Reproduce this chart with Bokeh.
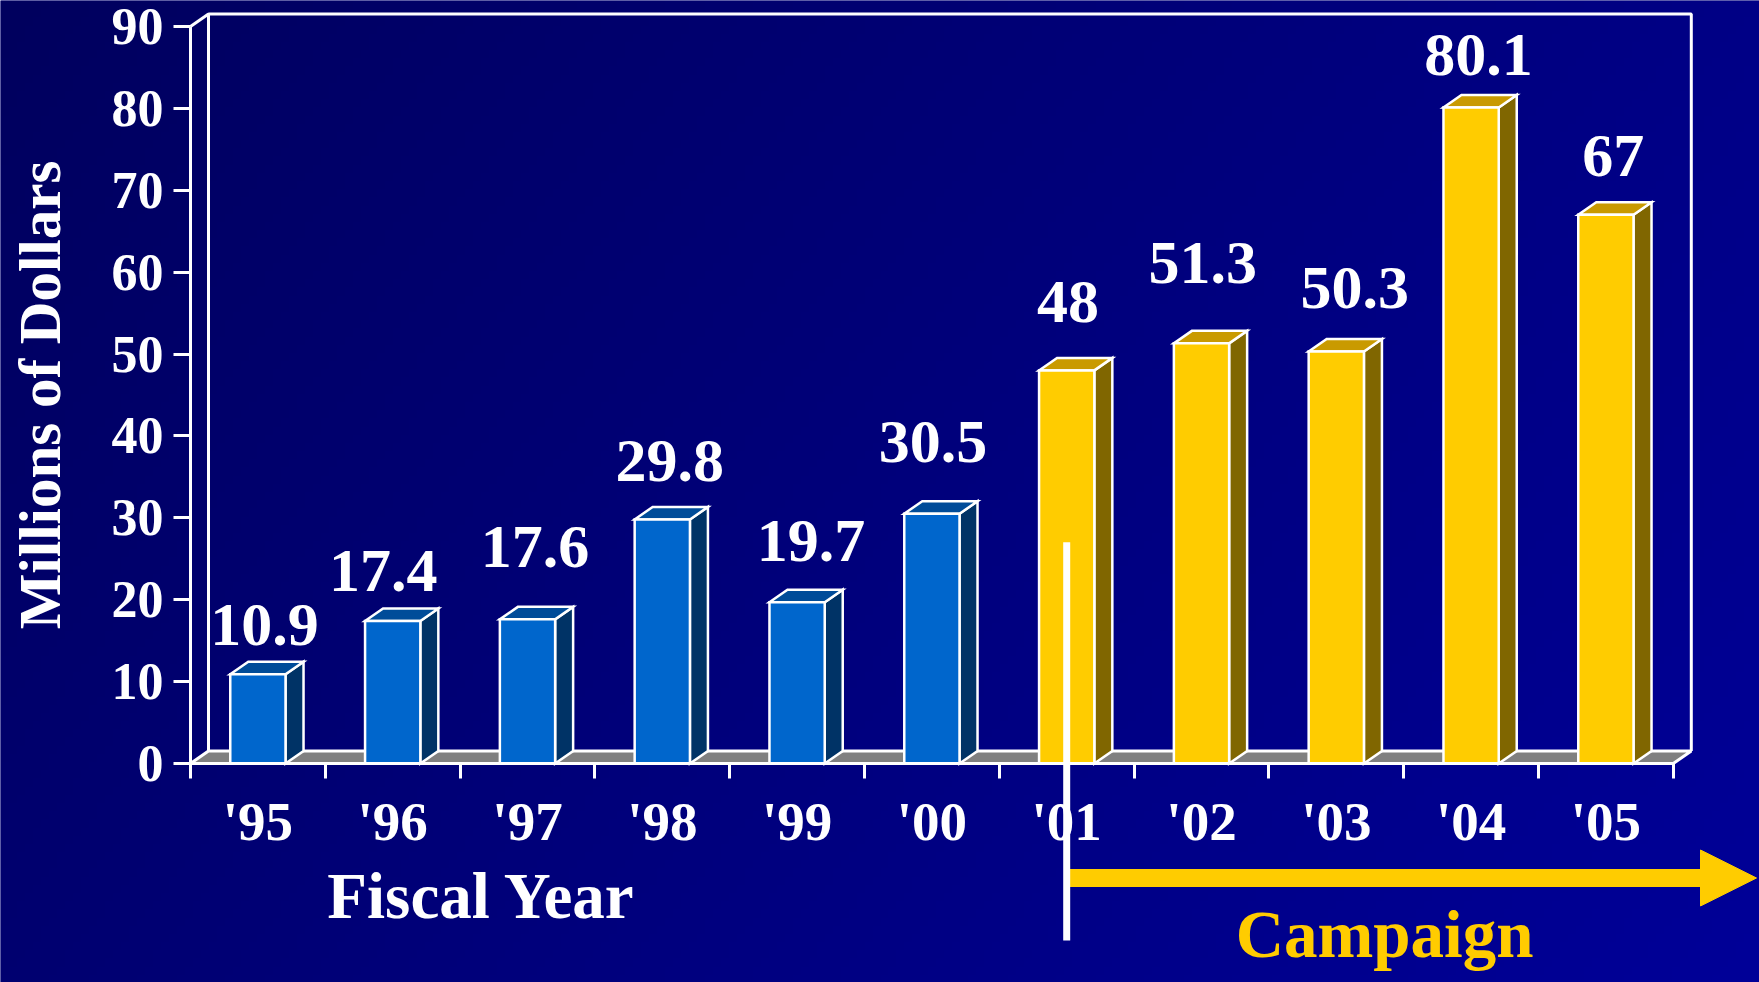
import numpy as np
from bokeh.plotting import figure
from bokeh.models import Range1d, FixedTicker, Arrow, NormalHead
from bokeh.core.properties import value
from bokeh.embed import file_html
from bokeh.resources import INLINE

# ---------------- data ----------------
years = ["'95", "'96", "'97", "'98", "'99", "'00", "'01", "'02", "'03", "'04", "'05"]
amounts = [10.9, 17.4, 17.6, 29.8, 19.7, 30.5, 48, 51.3, 50.3, 80.1, 67]
amount_labels = ["10.9", "17.4", "17.6", "29.8", "19.7", "30.5", "48", "51.3", "50.3", "80.1", "67"]
campaign_start = "'01"          # first campaign year
y_ticks = [0, 10, 20, 30, 40, 50, 60, 70, 80, 90]
y_max = 90

# ---------------- layout of the value labels (as placed in the original) ----------------
label_lift = [5.83, 5.90, 8.71, 6.93, 7.30, 8.56, 8.18, 9.68, 7.53, 6.23, 6.99]   # value units above bar
label_shift = [-0.017, -0.137, -0.012, -0.012, 0.037, -0.058, -0.058, -0.058, 0.071, -0.012, -0.012]  # categories

# ---------------- geometry / style ----------------
W, H = 1759, 982
PXX, X0 = 134.8, 190.0     # px per category, px of category boundary 0
PXY, Y0 = 8.19, 763.0      # px per unit, px of value 0
DX, DY = 18 / PXX, 12.5 / PXY   # 3-D depth offset in data units
BW = 0.41                  # bar front width (category units)
FONT = "Liberation Serif"

n = len(years)
ci = years.index(campaign_start)
face = {"b": ("#0066CC", "#004C99", "#003366"), "y": ("#FFCC00", "#C99A00", "#806600")}

p = figure(width=W, height=H, output_backend="svg", toolbar_location=None,
           x_range=Range1d(-X0 / PXX, (W - X0) / PXX),
           y_range=Range1d((Y0 - H) / PXY, Y0 / PXY),
           min_border=0, background_fill_color="#000078", border_fill_color="#000078",
           outline_line_color=None)
p.xgrid.visible = False
p.ygrid.visible = False

# background gradient
ny, nx = 120, 220
u = np.linspace(0, 1, nx)[None, :]
v = np.linspace(0, 1, ny)[:, None]          # 0 = bottom
tl, tr, bl, br = 0x5E, 0x86, 0x70, 0x98
blue = bl * (1 - u) * (1 - v) + br * u * (1 - v) + tl * (1 - u) * v + tr * u * v
img = np.zeros((ny, nx), dtype=np.uint32)
view = img.view(dtype=np.uint8).reshape((ny, nx, 4))
view[:, :, 2] = blue.astype(np.uint8)
view[:, :, 3] = 255
xr0, xr1 = p.x_range.start, p.x_range.end
yr0, yr1 = p.y_range.start, p.y_range.end
p.image_rgba(image=[img], x=xr0, y=yr0, dw=xr1 - xr0, dh=yr1 - yr0, level="image")

# floor
p.patch([0, n, n + DX, DX], [0, 0, DY, DY], fill_color="#808080",
        line_color="white", line_width=3)
# back wall + link to y axis
p.multi_line(xs=[[DX, DX, n + DX, n + DX], [0, DX]],
             ys=[[DY, y_max + DY, y_max + DY, DY], [y_max, y_max + DY]],
             line_color="white", line_width=3)

# 3-D bars
side_xs, side_ys, top_xs, top_ys, side_c, top_c, front_c = [], [], [], [], [], [], []
lefts, rights = [], []
for i, a in enumerate(amounts):
    c = face["y" if i >= ci else "b"]
    L, R = i + 0.5 - BW / 2, i + 0.5 + BW / 2
    lefts.append(L); rights.append(R)
    side_xs.append([R, R + DX, R + DX, R]); side_ys.append([0, DY, a + DY, a])
    top_xs.append([L, R, R + DX, L + DX]); top_ys.append([a, a, a + DY, a + DY])
    front_c.append(c[0]); top_c.append(c[1]); side_c.append(c[2])
p.patches(side_xs, side_ys, fill_color=side_c, line_color="white", line_width=2.5, line_join="miter")
p.patches(top_xs, top_ys, fill_color=top_c, line_color="white", line_width=2.5, line_join="miter")
p.quad(left=lefts, right=rights, bottom=0, top=amounts, fill_color=front_c,
       line_color="white", line_width=2.5, line_join="miter")

# value labels
p.text(x=[i + 0.5 + DX / 2 + label_shift[i] for i in range(n)],
       y=[a + label_lift[i] + 0.18 for i, a in enumerate(amounts)],
       text=amount_labels, text_align="center", text_baseline="alphabetic",
       text_font=value(FONT), text_font_style="bold", text_font_size="62px",
       text_color="white")

# axes (fixed at the front plane)
ya = p.yaxis[0]
ya.fixed_location = 0
ya.bounds = (0, y_max)
ya.ticker = FixedTicker(ticks=y_ticks, minor_ticks=[])
ya.axis_line_color = "white"; ya.axis_line_width = 3
ya.major_tick_line_color = "white"; ya.major_tick_line_width = 3
ya.major_tick_out = 17; ya.major_tick_in = 0
ya.minor_tick_line_color = None
ya.major_label_standoff = 10
ya.major_label_text_font = FONT; ya.major_label_text_font_style = "bold"
ya.major_label_text_font_size = "52px"; ya.major_label_text_color = "white"
ya.axis_label = "Millions of Dollars"
ya.axis_label_text_font = FONT; ya.axis_label_text_font_style = "bold"
ya.axis_label_text_font_size = "59px"; ya.axis_label_text_color = "white"
ya.axis_label_standoff = 36

xa = p.xaxis[0]
xa.fixed_location = 0
xa.bounds = (0, n)
xa.ticker = FixedTicker(ticks=[i + 0.5 for i in range(n)], minor_ticks=list(range(n + 1)))
xa.major_label_overrides = {i + 0.5: y for i, y in enumerate(years)}
xa.axis_line_color = "white"; xa.axis_line_width = 3
xa.major_tick_line_color = None
xa.major_tick_out = 0; xa.major_tick_in = 0
xa.minor_tick_line_color = "white"; xa.minor_tick_line_width = 3
xa.minor_tick_out = 15; xa.minor_tick_in = 0
xa.major_label_standoff = 12
xa.major_label_text_font = FONT; xa.major_label_text_font_style = "bold"
xa.major_label_text_font_size = "55px"; xa.major_label_text_color = "white"

# captions
p.text(x=[2.16], y=[-16.12], text=["Fiscal Year"], text_align="center",
       text_baseline="alphabetic", text_font=value(FONT), text_font_style="bold",
       text_font_size="65px", text_color="white")
p.text(x=[8.858], y=[-20.85], text=["Campaign"], text_align="center",
       text_baseline="alphabetic", text_font=value(FONT), text_font_style="bold",
       text_font_size="67px", text_color="#FFCC00")

# campaign arrow and divider
p.add_layout(Arrow(end=NormalHead(size=56, fill_color="#FFCC00", line_color="#FFCC00", line_width=1),
                   x_start=ci + 0.5, y_start=-13.98, x_end=(1756 - X0) / PXX, y_end=-13.98,
                   line_color="#FFCC00", line_width=18))
p.segment(x0=[ci + 0.5], y0=[27], x1=[ci + 0.5], y1=[-21.6], line_color="white",
          line_width=7, level="overlay")

open("out.html", "w").write(file_html(p, INLINE))
